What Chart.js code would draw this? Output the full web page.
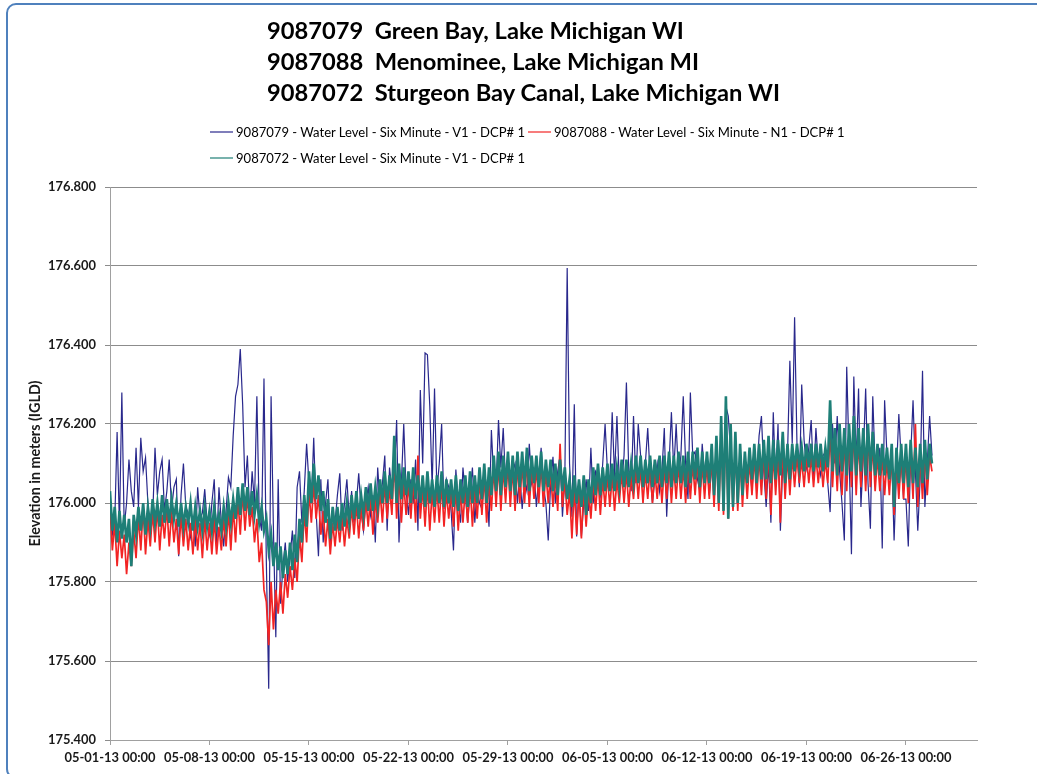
<!DOCTYPE html>
<html>
<head>
<meta charset="utf-8">
<script src="https://cdn.jsdelivr.net/npm/chart.js@4.4.1/dist/chart.umd.min.js"></script>
<style>
html,body{margin:0;padding:0;background:#fff;}
#wrap{position:relative;width:1037px;height:774px;overflow:hidden;background:#fff;}
#frame{position:absolute;left:6px;top:3px;width:1100px;height:776px;border:2px solid #4f81bd;border-radius:10px;box-sizing:border-box;}
#c{position:absolute;left:0;top:0;}
#title{position:absolute;left:267px;top:15px;font-family:Lato,'Open Sans',sans-serif;font-weight:bold;white-space:pre;color:#000;}
#title div{height:31px;line-height:31px;}
.legrow{position:absolute;left:210px;display:flex;align-items:center;font-family:Lato,'Open Sans',sans-serif;white-space:pre;color:#000;height:16px;}
.legitem{display:flex;align-items:center;margin-right:3px;}
.legitem i{display:inline-block;width:23px;height:2px;margin-right:3px;}
</style>
</head>
<body>
<div id="wrap">
  <div id="frame"></div>
  <canvas id="c" width="1037" height="774"></canvas>
  <div id="title"></div>
  <div id="legend"></div>
</div>
<script>
// ---------------- DATA ----------------
const titleLines = [
  '9087079  Green Bay, Lake Michigan WI',
  '9087088  Menominee, Lake Michigan MI',
  '9087072  Sturgeon Bay Canal, Lake Michigan WI'
];
const seriesNames = [
  '9087079 - Water Level - Six Minute - V1 - DCP# 1',
  '9087088 - Water Level - Six Minute - N1 - DCP# 1',
  '9087072 - Water Level - Six Minute - V1 - DCP# 1'
];
const yAxisTitle = 'Elevation in meters (IGLD)';
const xTickLabels = ['05-01-13 00:00','05-08-13 00:00','05-15-13 00:00','05-22-13 00:00','05-29-13 00:00',
                     '06-05-13 00:00','06-12-13 00:00','06-19-13 00:00','06-26-13 00:00'];
const hoursPerTickLabel = 168;   // one week between labels
const sampleHours = 4;           // values below are read every 4 hours from 05-01-13 00:00
const axisEndHours = 1464;       // 07-01-13 00:00
const yMin = 175.4, yMax = 176.8, yStep = 0.2;

// 9087079 Green Bay (navy)
const greenBay = [
176.02,175.92,175.95,176.18,175.94,176.28,
175.94,176.00,176.11,176.03,175.99,176.14,
175.99,176.165,176.08,176.115,176.00,175.92,
175.96,176.14,176.02,176.08,176.11,175.98,
176.03,176.11,175.985,176.04,176.06,175.865,
176.02,176.10,175.99,175.975,175.915,175.96,
175.89,176.04,175.96,175.975,176.035,175.95,
175.92,176.00,176.06,175.89,176.04,175.95,
175.89,175.98,176.065,176.04,176.17,176.27,
176.30,176.39,176.25,176.04,176.12,175.965,
176.08,176.00,176.27,175.965,175.93,176.315,
175.85,175.53,176.27,175.93,175.66,176.06,
175.745,175.84,175.90,175.80,175.865,175.93,
175.81,176.04,176.08,175.95,176.03,176.15,
176.05,176.00,176.165,175.98,175.865,176.06,
175.90,176.00,176.06,175.90,175.98,175.95,
176.02,176.075,175.93,176.00,176.06,175.96,
176.03,175.95,176.00,176.075,175.98,175.93,
176.00,176.04,175.97,176.02,175.90,176.09,
176.00,176.05,176.12,175.93,176.09,176.03,
176.06,176.21,175.90,176.05,176.20,176.03,
175.97,176.06,176.00,176.11,175.93,176.286,
176.10,176.38,176.375,176.245,176.04,176.29,
176.03,176.10,176.20,175.985,176.06,176.04,
175.98,175.88,176.085,176.00,175.95,176.09,
176.02,175.95,176.03,176.09,175.95,176.04,
176.00,175.985,176.08,176.04,175.94,176.185,
176.06,176.04,176.21,176.09,176.19,176.05,
176.12,176.03,176.08,176.10,176.00,176.07,
175.985,176.06,176.03,176.15,176.05,176.08,
175.99,176.07,176.14,176.04,176.00,175.905,
176.05,176.117,176.00,176.08,176.12,175.965,
176.06,176.595,176.10,175.965,176.25,175.915,
176.05,175.915,176.00,176.06,175.98,176.14,
176.00,176.08,176.066,176.02,176.10,176.20,
176.08,176.05,176.23,176.066,176.22,176.05,
176.05,176.12,176.305,176.08,176.03,176.22,
176.05,176.20,176.12,176.05,176.10,176.19,
176.07,176.00,176.06,176.10,176.03,176.08,
176.19,175.965,176.10,176.23,176.08,176.20,
176.066,176.12,176.27,176.10,176.01,176.28,
176.12,176.13,176.06,176.03,176.15,176.066,
176.10,176.02,176.09,176.04,176.11,176.05,
176.12,176.06,176.245,176.22,176.13,176.08,
176.117,176.05,176.10,176.02,176.117,176.07,
176.10,176.03,176.12,176.06,176.17,176.22,
176.08,175.99,176.10,175.95,176.23,176.05,
176.20,175.93,176.10,176.05,176.12,176.36,
176.15,176.47,176.15,176.04,176.30,176.16,
176.09,176.14,176.21,176.06,176.19,176.10,
176.07,176.12,176.13,176.05,175.977,176.20,
176.10,176.22,176.08,176.00,175.905,176.345,
176.12,175.87,176.32,176.10,176.29,175.99,
176.12,176.29,176.05,175.935,176.27,176.09,
176.09,176.14,175.885,176.26,176.12,176.08,
176.12,175.905,176.08,176.225,176.11,176.01,
176.01,175.89,176.12,176.26,176.08,175.93,
176.06,176.335,175.99,176.10,176.22,176.12
];

// 9087088 Menominee (red)
const menominee = [
175.99,175.88,175.95,175.84,175.93,175.86,
175.92,175.82,175.90,175.84,175.93,175.86,
175.97,175.88,175.99,175.87,175.96,175.89,
175.98,175.90,175.99,175.88,175.97,175.91,
175.99,175.89,175.98,175.90,175.96,175.87,
175.97,175.89,175.96,175.88,175.95,175.87,
175.96,175.88,175.95,175.86,175.96,175.88,
175.95,175.87,175.96,175.87,175.94,175.88,
175.96,175.89,175.98,175.88,175.99,175.90,
176.01,175.92,176.03,175.93,176.02,175.94,
175.99,175.90,175.96,175.85,175.90,175.78,
175.75,175.64,175.80,175.68,175.78,175.72,
175.80,175.72,175.82,175.76,175.84,175.78,
175.86,175.80,175.92,175.85,175.98,175.90,
176.03,175.95,176.05,175.96,176.02,175.92,
175.98,175.89,175.96,175.87,175.95,175.89,
175.96,175.90,175.97,175.89,175.96,175.91,
175.99,175.92,176.00,175.91,175.99,175.93,
176.01,175.94,176.02,175.92,176.01,175.95,
176.03,175.95,176.05,175.96,176.04,175.97,
176.12,175.96,176.07,175.95,176.05,175.97,
176.05,175.96,176.06,175.95,176.12,175.96,
176.04,175.94,176.05,175.93,176.03,175.95,
176.04,175.95,176.05,175.94,176.03,175.96,
176.03,175.94,176.04,175.93,176.03,175.95,
176.04,175.95,176.05,175.94,176.04,175.96,
176.06,175.97,176.07,175.95,176.06,175.98,
176.09,175.99,176.10,175.98,176.09,176.00,
176.10,175.99,176.09,175.98,176.10,176.00,
176.10,176.00,176.11,175.99,176.09,176.01,
176.09,176.00,176.10,175.99,176.08,176.00,
176.08,175.99,176.07,175.98,176.15,175.99,
176.06,175.97,176.03,175.91,176.04,175.92,
176.03,175.91,176.04,175.94,176.03,175.96,
176.06,175.98,176.07,175.97,176.06,175.99,
176.07,175.99,176.07,175.98,176.06,176.00,
176.08,176.00,176.08,175.99,176.07,176.01,
176.09,176.01,176.09,176.00,176.08,176.01,
176.09,176.00,176.08,176.01,176.09,176.00,
176.09,176.01,176.10,176.00,176.09,176.01,
176.10,176.01,176.09,176.00,176.10,176.01,
176.10,176.02,176.11,176.00,176.10,176.01,
176.10,176.01,176.12,175.99,176.13,175.98,
176.17,175.97,176.20,175.96,176.15,175.98,
176.14,175.98,176.12,175.99,176.10,176.01,
176.11,176.02,176.12,176.01,176.12,176.02,
176.13,176.01,176.14,175.97,176.13,176.02,
176.13,175.95,176.15,176.01,176.12,176.02,
176.12,176.04,176.12,176.05,176.11,176.04,
176.12,176.05,176.12,176.04,176.12,176.05,
176.12,176.04,176.11,176.05,176.18,176.04,
176.16,176.03,176.17,176.02,176.16,176.03,
176.17,176.04,176.19,176.02,176.16,176.04,
176.16,176.03,176.17,176.04,176.15,176.03,
176.12,176.03,176.12,176.02,176.11,176.02,
176.12,175.97,176.11,176.01,176.12,176.01,
176.12,176.00,176.13,176.01,176.20,175.99,
176.12,176.01,176.13,176.02,176.12,176.08
];

// 9087072 Sturgeon Bay Canal (teal)
const sturgeonBay = [
176.03,175.93,175.99,175.90,175.98,175.91,
175.97,175.90,175.96,175.84,175.97,175.92,
175.99,175.93,176.00,175.92,175.99,175.94,
176.01,175.95,176.00,175.94,176.02,175.95,
176.01,175.95,176.01,175.96,176.00,175.94,
176.00,175.94,175.99,175.95,176.00,175.93,
175.99,175.94,175.98,175.93,175.99,175.94,
175.98,175.93,175.99,175.94,175.97,175.93,
175.99,175.94,176.00,175.95,176.01,175.96,
176.04,175.97,176.05,175.98,176.04,175.97,
176.03,175.97,176.02,175.95,175.99,175.93,
175.96,175.88,175.92,175.84,175.90,175.83,
175.89,175.81,175.88,175.82,175.90,175.83,
175.92,175.85,175.96,175.90,176.02,175.94,
176.08,176.00,176.10,176.01,176.07,175.98,
176.03,175.95,176.01,175.91,175.99,175.93,
175.99,175.93,176.00,175.94,176.00,175.95,
176.02,175.96,176.03,175.96,176.02,175.97,
176.04,175.98,176.05,175.98,176.04,175.99,
176.06,176.00,176.08,176.00,176.07,176.01,
176.17,176.00,176.10,176.01,176.09,176.02,
176.08,176.00,176.09,176.01,176.07,176.00,
176.07,175.99,176.08,176.00,176.06,175.99,
176.07,176.00,176.08,175.99,176.06,176.00,
176.06,175.99,176.07,175.98,176.06,176.00,
176.07,175.99,176.08,176.00,176.07,176.00,
176.09,176.01,176.10,176.00,176.09,176.02,
176.12,176.03,176.13,176.02,176.12,176.04,
176.13,176.03,176.12,176.02,176.13,176.04,
176.13,176.04,176.14,176.03,176.12,176.05,
176.12,176.04,176.13,176.03,176.11,176.04,
176.11,176.03,176.10,176.02,176.11,176.03,
176.09,176.01,176.06,175.99,176.07,176.00,
176.06,175.99,176.07,175.97,176.06,176.00,
176.09,176.02,176.10,176.02,176.09,176.03,
176.10,176.03,176.10,176.03,176.09,176.04,
176.11,176.04,176.11,176.04,176.10,176.05,
176.12,176.05,176.12,176.04,176.11,176.05,
176.12,176.04,176.11,176.05,176.12,176.04,
176.12,176.05,176.13,176.04,176.12,176.05,
176.13,176.05,176.12,176.04,176.13,176.05,
176.13,176.06,176.14,176.04,176.13,176.05,
176.13,176.05,176.15,176.02,176.17,176.00,
176.22,175.98,176.27,175.96,176.20,175.99,
176.18,176.00,176.15,176.02,176.13,176.05,
176.14,176.06,176.15,176.05,176.15,176.06,
176.16,176.06,176.17,176.05,176.16,176.06,
176.16,176.07,176.18,176.05,176.15,176.06,
176.15,176.08,176.15,176.09,176.14,176.08,
176.15,176.09,176.15,176.08,176.15,176.09,
176.15,176.08,176.14,176.09,176.26,176.08,
176.19,176.07,176.20,176.08,176.19,176.07,
176.20,176.08,176.22,176.07,176.19,176.08,
176.19,176.07,176.20,176.08,176.18,176.07,
176.15,176.07,176.15,176.07,176.14,176.06,
176.15,175.99,176.14,176.05,176.15,176.05,
176.15,176.04,176.16,176.05,176.14,176.04,
176.15,176.05,176.16,176.06,176.15,176.10
];

// ---------------- STYLE / LAYOUT ----------------
const colors = ['#29288c', '#f22424', '#1e7f77'];
const lineWidths = [1.2, 1.7, 2.6];
const FONT = 'Lato, "Open Sans", sans-serif';

function fitSize(text, weight, target) {
  const ctx = document.createElement('canvas').getContext('2d');
  ctx.font = weight + ' 100px ' + FONT;
  return 100 * target / ctx.measureText(text).width;
}

const titleSize = fitSize(titleLines[2], 'bold', 514);
const legendSize = fitSize(seriesNames[0], 'normal', 290);
const tickSize = fitSize(xTickLabels[0], 'bold', 91);
const axisTitleSize = fitSize(yAxisTitle, 'bold', 166);

// title
const titleEl = document.getElementById('title');
titleEl.style.fontSize = titleSize.toFixed(2) + 'px';
titleLines.forEach(t => { const d = document.createElement('div'); d.textContent = t; titleEl.appendChild(d); });

function toPoints(arr) { return arr.map((v, i) => ({ x: i * sampleHours, y: v })); }

const datasets = [greenBay, menominee, sturgeonBay].map((arr, k) => ({
  label: seriesNames[k],
  data: toPoints(arr),
  borderColor: colors[k],
  backgroundColor: colors[k],
  borderWidth: lineWidths[k],
  pointRadius: 0,
  tension: 0,
  fill: false,
  order: 3 - k
}));

const chart = new Chart(document.getElementById('c'), {
  type: 'line',
  data: { datasets },
  options: {
    responsive: false,
    animation: false,
    events: [],
    layout: { padding: { top: 187, right: 60, bottom: 0, left: 0 } },
    plugins: { legend: { display: false }, tooltip: { enabled: false }, title: { display: false } },
    scales: {
      x: {
        type: 'linear',
        min: 0,
        max: axisEndHours,
        afterFit: s => { s.height = 34; },
        afterBuildTicks: s => { s.ticks = xTickLabels.map((l, i) => ({ value: i * hoursPerTickLabel })); },
        ticks: {
          autoSkip: false, maxRotation: 0, minRotation: 0, padding: 5,
          color: '#1a1a1a',
          font: { family: FONT, weight: 'bold', size: tickSize },
          callback: (v, i) => xTickLabels[i]
        },
        grid: { drawOnChartArea: false, drawTicks: true, tickLength: 5, color: '#a0a0a0' },
        border: { display: true, color: '#a0a0a0', width: 1 }
      },
      y: {
        min: yMin,
        max: yMax,
        afterFit: s => { s.width = 110; },
        ticks: {
          stepSize: yStep, padding: 9, color: '#1a1a1a',
          font: { family: FONT, weight: 'bold', size: tickSize },
          callback: v => Number(v).toFixed(3)
        },
        grid: { color: '#8c8c8c', lineWidth: 1, drawTicks: true, tickLength: 5 },
        border: { display: true, color: '#a0a0a0', width: 1 },
        title: {
          display: true, text: yAxisTitle, color: '#1a1a1a',
          font: { family: FONT, weight: 'bold', size: axisTitleSize },
          padding: { top: 35 - axisTitleSize * 0.6, bottom: 0 }
        }
      }
    }
  }
});

// legend built from the chart's datasets
const legendEl = document.getElementById('legend');
const rows = [[0, 1], [2]];
const rowY = [132, 158];
rows.forEach((r, ri) => {
  const row = document.createElement('div');
  row.className = 'legrow';
  row.style.top = (rowY[ri] - 8) + 'px';
  row.style.fontSize = legendSize.toFixed(2) + 'px';
  r.forEach(idx => {
    const ds = chart.data.datasets[idx];
    const it = document.createElement('span');
    it.className = 'legitem';
    const sw = document.createElement('i');
    sw.style.background = ds.borderColor;
    sw.style.opacity = '0.6';
    const tx = document.createElement('span');
    tx.textContent = ds.label;
    it.appendChild(sw); it.appendChild(tx);
    row.appendChild(it);
  });
  legendEl.appendChild(row);
});
</script>
</body>
</html>
